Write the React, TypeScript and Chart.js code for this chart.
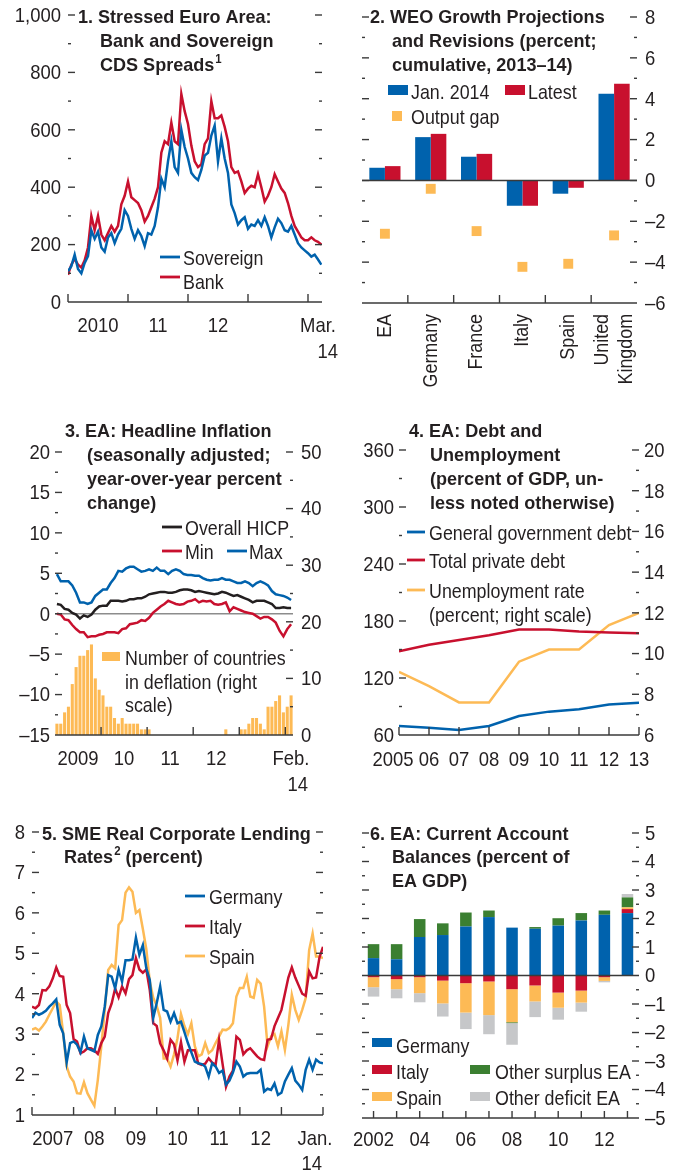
import { useEffect, useRef } from "react";
import { Chart, registerables } from "chart.js";

Chart.register(...registerables);

const W = 684;
const H = 1172;
const FF = '"Liberation Sans", Arial, "DejaVu Sans", sans-serif';
const SX_REG = 0.85; // horizontal condensing of regular text
const SX_NUM = 0.88; // horizontal condensing of numeric tick labels
const SX_BOLD = 0.95; // horizontal condensing of bold titles
const LINE_W = 2.5;
const INK = "#231f20";
const TICK = "#3a3a3a";
const BLUE = "#0062ad";
const RED = "#c8102e";
const ORANGE = "#fdba55";
const GREEN = "#3b7f31";
const LGRAY = "#c6c7c9";
const BLACK = "#231f20";

// ---------- Panel 1: CDS spreads (sampled every 2/3 month from Jan 2010) ----------
const p1SampleMonths = 2 / 3;
const p1Sovereign = [
  107, 125, 165, 115, 100, 136, 160, 250, 220, 245,
  190, 175, 225, 240, 205, 235, 255, 320, 300, 255,
  220, 250, 230, 195, 240, 235, 265, 330, 430, 400,
  490, 560, 470, 450, 600, 540, 500, 450, 435, 425,
  460, 510, 520, 580, 615, 490, 570, 500, 450, 340,
  310, 270, 285, 295, 255, 270, 265, 285, 265, 295,
  265, 225, 260, 290, 275, 250, 245, 265, 235, 205,
  190, 180, 170, 158, 165, 148, 130,
];
const p1Bank = [
  95, 130, 150, 130, 120, 145, 190, 300, 250, 300,
  235, 215, 240, 265, 245, 265, 340, 370, 420, 365,
  355, 345, 320, 280, 300, 330, 360, 400, 520, 560,
  550, 625, 560, 550, 725, 665, 620, 545, 490, 470,
  480, 550, 570, 700, 640, 640, 650, 610, 560, 470,
  450, 455, 420, 380, 395, 405, 400, 445, 400, 350,
  370, 400, 445, 420, 395, 380, 345, 300, 265, 245,
  225, 215, 215, 225, 215, 210, 200,
];
const p1YTicks = [0, 200, 400, 600, 800, 1000];
const p1YMinor = [100, 300, 500, 700, 900];
const p1XTicks = [0, 12, 24, 36, 48];
const p1XLabels = ["2010", "11", "12"];
const p1XLabelAt = [6, 18, 30];

// ---------- Panel 2: WEO growth projections ----------
const p2Cats = ["EA", "Germany", "France", "Italy", "Spain", "United Kingdom"];
const p2Jan2014 = [0.62, 2.12, 1.16, -1.24, -0.65, 4.24];
const p2Latest = [0.7, 2.28, 1.3, -1.24, -0.36, 4.73];
const p2OutputGap = [-2.61, -0.41, -2.48, -4.23, -4.08, -2.69];
const p2YTicks = [-6, -4, -2, 0, 2, 4, 6, 8];
const p2YMinor = [-5, -3, -1, 1, 3, 5, 7];

// ---------- Panel 3: headline inflation, monthly Jan 2009 - Feb 2014 ----------
const p3Hicp = [
  1.2, 1.1, 0.6, 0.5, 0.1, -0.1, -0.6, -0.2, -0.4, -0.1,
  0.5, 0.9, 1.0, 1.0, 1.6, 1.6, 1.6, 1.5, 1.6, 1.8,
  1.8, 1.9, 1.9, 2.1, 2.4, 2.5, 2.6, 2.7, 2.7, 2.6,
  2.6, 2.7, 2.9, 3.0, 3.0, 2.9, 2.7, 2.8, 2.7, 2.6,
  2.5, 2.4, 2.5, 2.7, 2.6, 2.4, 2.2, 2.3, 2.1, 1.9,
  1.7, 1.4, 1.6, 1.6, 1.6, 1.4, 1.2, 0.7, 0.7, 0.8,
  0.7, 0.7,
];
const p3Min = [
  0.0, -0.1, -0.7, -0.8, -1.4, -1.9, -2.3, -2.3, -2.9, -2.8,
  -2.8, -2.6, -2.5, -2.3, -2.3, -2.3, -2.4, -1.9, -1.8, -1.3,
  -1.2, -1.1, -0.8, -0.9, -0.5, 0.1, 0.5, 0.9, 1.2, 1.6,
  1.4, 1.2, 1.1, 1.2, 1.5, 1.6, 1.8, 1.4, 1.6, 1.5,
  1.6, 1.2, 1.1, 1.2, 1.4, 0.3, 0.8, 0.6, 0.4, 0.2,
  0.1, 0.0, -0.3, -0.6, -0.4, -0.4, -0.7, -1.1, -2.1, -2.8,
  -1.9, -1.3,
];
const p3Max = [
  4.9, 4.0, 4.0, 4.0, 3.5, 2.6, 1.4, 1.4, 1.2, 1.4,
  2.2, 2.6, 3.0, 3.0, 3.8, 4.4, 5.3, 5.2, 5.6, 5.8,
  5.8, 5.5, 5.2, 5.3, 5.5, 5.3, 5.7, 5.3, 5.3, 4.9,
  5.3, 5.5, 5.3, 4.9, 4.8, 4.8, 4.7, 4.7, 4.4, 4.2,
  4.1, 4.2, 4.2, 4.4, 4.2, 4.2, 4.0, 3.8, 3.8, 4.0,
  3.8, 3.4, 3.8, 4.0, 3.8, 3.5, 2.8, 2.4, 2.3, 2.2,
  2.0, 1.7,
];
const p3Deflation = [
  2, 2, 4, 5, 9, 12, 14, 14, 15, 16,
  10, 8, 7, 5, 5, 3, 2, 3, 2, 2,
  2, 2, 1, 1, 1, 0, 0, 0, 0, 0,
  0, 0, 0, 0, 0, 0, 0, 0, 0, 0,
  0, 0, 0, 0, 1, 0, 0, 0, 1, 1,
  2, 3, 3, 2, 1, 5, 5, 6, 7, 4,
  5, 7,
];
const p3YTicks = [-15, -10, -5, 0, 5, 10, 15, 20];
const p3YMinor = [-12.5, -7.5, -2.5, 2.5, 7.5, 12.5, 17.5];
const p3Y2Ticks = [0, 10, 20, 30, 40, 50];
const p3Y2Minor = [5, 15, 25, 35, 45];
const p3XTicks = [12, 24, 36, 48, 60];
const p3XLabels = ["2009", "10", "11", "12"];
const p3XLabelAt = [6, 18, 30, 42];

// ---------- Panel 4: debt and unemployment ----------
const p4Years = [2005, 2006, 2007, 2008, 2009, 2010, 2011, 2012, 2013];
const p4YearLabels = ["2005", "06", "07", "08", "09", "10", "11", "12", "13"];
const p4GovDebt = [69.5, 67.7, 65.3, 69.5, 80, 84.6, 87, 92, 94];
const p4PrivateDebt = [148, 155, 160, 165, 171, 171, 169, 168, 167];
const p4Unemployment = [9.1, 8.4, 7.6, 7.6, 9.6, 10.2, 10.2, 11.4, 12.0];
const p4YTicks = [60, 120, 180, 240, 300, 360];
const p4YMinor = [90, 150, 210, 270, 330];
const p4Y2Ticks = [6, 8, 10, 12, 14, 16, 18, 20];
const p4Y2Minor = [7, 9, 11, 13, 15, 17, 19];

// ---------- Panel 5: SME lending rates, monthly Jan 2007 - Jan 2014 ----------
const p5Germany = [
  3.4, 3.53, 3.48, 3.52, 3.58, 3.68, 3.76, 3.86, 3.23, 3.02,
  2.3, 2.78, 2.82, 2.74, 2.55, 2.94, 2.65, 2.61, 2.57, 2.98,
  3.19, 3.68, 4.46, 4.42, 4.13, 4.59, 4.3, 4.83, 4.83, 4.85,
  5.39, 4.96, 5.2, 4.63, 4.34, 3.4, 3.77, 4.18, 3.6, 3.56,
  3.31, 3.52, 3.27, 3.31, 3.05, 2.78, 2.55, 2.32, 2.28, 2.26,
  2.2, 1.95, 2.28, 2.2, 2.04, 2.1, 1.75, 1.85, 2.05, 2.32,
  2.2, 1.95, 2.02, 2.04, 2.04, 2.04, 2.12, 1.58, 1.65, 1.62,
  1.78, 1.5, 1.55, 1.83, 2.0, 2.16, 1.85, 1.75, 1.62, 2.12,
  2.37, 2.12, 2.37, 2.3, 2.28,
];
const p5Italy = [
  3.68, 3.64, 3.72, 4.09, 4.08, 4.18, 4.38, 4.65, 4.44, 4.42,
  3.72, 3.52, 2.88, 2.82, 2.53, 2.57, 2.65, 2.65, 2.6, 2.51,
  2.78, 2.94, 3.52, 3.76, 4.13, 3.91, 4.18, 4.01, 4.36, 4.46,
  4.88, 4.6, 4.52, 4.6, 4.09, 3.27, 3.2, 2.77, 2.6, 2.4,
  2.86, 2.75, 2.35, 2.8, 2.32, 2.6, 2.6, 2.6, 2.27, 2.24,
  2.27, 2.4, 2.3, 2.24, 2.86, 2.27, 1.7, 1.95, 2.1, 2.94,
  2.86, 2.5, 2.6, 2.65, 2.55, 2.45, 2.38, 2.36, 2.86, 2.88,
  3.2, 3.4, 3.6, 4.0, 4.4, 4.65, 4.4, 4.2, 4.0, 3.95,
  4.55, 4.38, 4.4, 4.9, 5.16,
];
const p5Spain = [
  3.11, 3.15, 3.09, 3.19, 3.31, 3.48, 3.64, 3.81, 3.72, 3.02,
  2.2, 1.95, 1.83, 1.54, 1.53, 1.81, 1.54, 1.38, 1.23, 1.87,
  2.69, 3.6, 4.59, 4.71, 4.63, 5.7, 5.82, 6.5, 6.63, 6.52,
  6.0, 6.07, 5.6, 5.1, 4.3, 3.9, 3.7, 3.4, 2.4, 2.4,
  2.2, 2.5, 2.9, 3.5, 3.2, 3.0, 3.27, 2.7, 2.45, 2.5,
  2.78, 2.53, 2.6, 2.78, 2.94, 3.11, 3.1, 3.15, 3.27, 3.93,
  4.14, 4.14, 4.42, 3.93, 3.9, 4.34, 4.25, 3.68, 2.7, 2.94,
  3.0, 2.7, 3.07, 2.61, 3.23, 3.97, 3.6, 3.35, 3.6, 3.89,
  5.08, 5.49, 4.92, 4.92, 4.88,
];
const p5YTicks = [1, 2, 3, 4, 5, 6, 7, 8];
const p5YMinor = [1.5, 2.5, 3.5, 4.5, 5.5, 6.5, 7.5];
const p5XTicks = [0, 12, 24, 36, 48, 60, 72, 84];
const p5XLabels = ["2007", "08", "09", "10", "11", "12"];
const p5XLabelAt = [6, 18, 30, 42, 54, 66];

// ---------- Panel 6: current account balances ----------
const p6Years = ["2002", "2003", "2004", "2005", "2006", "2007", "2008", "2009", "2010", "2011", "2012", "2013"];
const p6Germany = [0.61, 0.57, 1.35, 1.42, 1.72, 2.05, 1.68, 1.64, 1.75, 1.93, 2.13, 2.19];
const p6Italy = [-0.06, -0.13, -0.06, -0.18, -0.27, -0.21, -0.48, -0.35, -0.6, -0.53, -0.06, 0.14];
const p6Spain = [-0.35, -0.35, -0.56, -0.8, -1.03, -1.18, -1.16, -0.56, -0.53, -0.42, -0.13, 0.06];
const p6OtherSurplus = [0.49, 0.53, 0.63, 0.41, 0.49, 0.23, -0.03, 0.06, 0.26, 0.26, 0.15, 0.35];
const p6OtherDeficit = [-0.33, -0.32, -0.32, -0.46, -0.58, -0.67, -0.76, -0.55, -0.42, -0.32, -0.05, 0.12];
const p6YTicks = [-5, -4, -3, -2, -1, 0, 1, 2, 3, 4, 5];
const p6YMinor = [-4.5, -3.5, -2.5, -1.5, -0.5, 0.5, 1.5, 2.5, 3.5, 4.5];
const p6XLabels = ["2002", "04", "06", "08", "10", "12"];
const p6XLabelAt = [0, 2, 4, 6, 8, 10];

// ---------- drawing helpers ----------
type Ctx = CanvasRenderingContext2D;
type TextOpt = { size?: number; bold?: boolean; base?: CanvasTextBaseline; color?: string; sx?: number };

function setFont(ctx: Ctx, size: number, bold: boolean) {
  ctx.font = `${bold ? "bold " : ""}${size}px ${FF}`;
}

function text(ctx: Ctx, s: string, x: number, y: number, align: CanvasTextAlign = "left", opt: TextOpt = {}) {
  const bold = !!opt.bold;
  const size = opt.size ?? (bold ? 19 : 21);
  const sx = opt.sx ?? (bold ? SX_BOLD : SX_REG);
  ctx.save();
  setFont(ctx, size, bold);
  ctx.fillStyle = opt.color ?? INK;
  ctx.textAlign = align;
  ctx.textBaseline = opt.base ?? "alphabetic";
  ctx.translate(x, y);
  ctx.scale(sx, 1);
  ctx.fillText(s, 0, 0);
  ctx.restore();
}

function measure(ctx: Ctx, s: string, size: number, bold: boolean, sx: number) {
  ctx.save();
  setFont(ctx, size, bold);
  const w = ctx.measureText(s).width * sx;
  ctx.restore();
  return w;
}

function title(ctx: Ctx, lines: Array<[string, number, number]>) {
  lines.forEach(([s, x, y]) => text(ctx, s, x, y, "left", { bold: true }));
}

function titleSup(ctx: Ctx, before: string, sup: string, after: string, x: number, y: number) {
  text(ctx, before, x, y, "left", { bold: true });
  const x1 = x + measure(ctx, before, 19, true, SX_BOLD) + 1;
  text(ctx, sup, x1, y - 8, "left", { size: 12, bold: true });
  const x2 = x1 + measure(ctx, sup, 12, true, SX_BOLD);
  if (after) text(ctx, after, x2, y, "left", { bold: true });
}

function fmt(v: number) {
  const s = Math.abs(v).toLocaleString("en-US");
  return v < 0 ? "\u2013" + s : s;
}

function yTicks(ctx: Ctx, chart: any, id: string, vals: number[], len: number, sides: string[] = ["left", "right"]) {
  const s = chart.scales[id];
  const a = chart.chartArea;
  ctx.save();
  ctx.strokeStyle = TICK;
  ctx.lineWidth = 1.4;
  for (const v of vals) {
    const y = s.getPixelForValue(v);
    for (const side of sides) {
      const x0 = side === "left" ? a.left : a.right - len;
      ctx.beginPath();
      ctx.moveTo(x0, y);
      ctx.lineTo(x0 + len, y);
      ctx.stroke();
    }
  }
  ctx.restore();
}

function yLabels(ctx: Ctx, chart: any, id: string, vals: number[], x: number, align: CanvasTextAlign) {
  const s = chart.scales[id];
  for (const v of vals) text(ctx, fmt(v), x, s.getPixelForValue(v) + 1, align, { base: "middle", sx: SX_NUM });
}

function xAxis(ctx: Ctx, chart: any, tickPx: number[], len = 8) {
  const a = chart.chartArea;
  ctx.save();
  ctx.strokeStyle = TICK;
  ctx.lineWidth = 1.6;
  ctx.beginPath();
  ctx.moveTo(a.left, a.bottom);
  ctx.lineTo(a.right, a.bottom);
  ctx.stroke();
  ctx.lineWidth = 1.4;
  for (const x of tickPx) {
    ctx.beginPath();
    ctx.moveTo(x, a.bottom);
    ctx.lineTo(x, a.bottom - len);
    ctx.stroke();
  }
  ctx.restore();
}

function xText(ctx: Ctx, s: string, x: number, y: number, align: CanvasTextAlign = "center") {
  text(ctx, s, x, y, align, { sx: SX_NUM });
}

function hRule(ctx: Ctx, chart: any, id: string, v: number, color: string, w: number) {
  const a = chart.chartArea;
  const y = chart.scales[id].getPixelForValue(v);
  ctx.save();
  ctx.strokeStyle = color;
  ctx.lineWidth = w;
  ctx.beginPath();
  ctx.moveTo(a.left, y);
  ctx.lineTo(a.right, y);
  ctx.stroke();
  ctx.restore();
}

function legLine(ctx: Ctx, x0: number, x1: number, y: number, color: string) {
  ctx.save();
  ctx.strokeStyle = color;
  ctx.lineWidth = 2.8;
  ctx.beginPath();
  ctx.moveTo(x0, y);
  ctx.lineTo(x1, y);
  ctx.stroke();
  ctx.restore();
}

function legRect(ctx: Ctx, x: number, y: number, w: number, h: number, color: string) {
  ctx.save();
  ctx.fillStyle = color;
  ctx.fillRect(x, y, w, h);
  ctx.restore();
}

function pad(a: number[]) {
  return { left: a[0], top: a[1], right: W - a[2], bottom: H - a[3] };
}

function baseOptions(area: number[], scales: any) {
  return {
    responsive: false,
    animation: false,
    events: [],
    layout: { padding: pad(area) },
    plugins: { legend: { display: false }, tooltip: { enabled: false }, title: { display: false } },
    scales,
  };
}

function deco(after: (ctx: Ctx, ch: any) => void, before?: (ctx: Ctx, ch: any) => void) {
  return {
    id: "deco",
    beforeDatasetsDraw(ch: any) {
      if (before) before(ch.ctx, ch);
    },
    afterDraw(ch: any) {
      after(ch.ctx, ch);
    },
  };
}

function lineDs(data: any[], color: string, extra: any = {}) {
  return { data, borderColor: color, backgroundColor: color, borderWidth: LINE_W, pointRadius: 0, tension: 0, fill: false, ...extra };
}

// ---------- panels ----------
function panel1() {
  const area = [68, 15, 322, 302];
  return {
    type: "line",
    data: {
      datasets: [
        lineDs(p1Sovereign.map((v, k) => ({ x: k * p1SampleMonths, y: v })), BLUE),
        lineDs(p1Bank.map((v, k) => ({ x: k * p1SampleMonths, y: v })), RED),
      ],
    },
    options: baseOptions(area, {
      x: { type: "linear", display: false, min: 0, max: 50.8 },
      y: { type: "linear", display: false, min: 0, max: 1000 },
    }),
    plugins: [
      deco((ctx, ch) => {
        yTicks(ctx, ch, "y", p1YTicks.filter((v) => v > 0), 7);
        yTicks(ctx, ch, "y", p1YMinor, 3);
        yLabels(ctx, ch, "y", p1YTicks, 61, "right");
        const xs = ch.scales.x;
        xAxis(ctx, ch, p1XTicks.map((m) => xs.getPixelForValue(m)));
        p1XLabels.forEach((s, i) => xText(ctx, s, xs.getPixelForValue(p1XLabelAt[i]), 332));
        xText(ctx, "Mar.", 318, 332);
        xText(ctx, "14", 338, 358, "right");
        title(ctx, [
          ["1. Stressed Euro Area:", 78, 22.5],
          ["Bank and Sovereign", 100, 46.5],
        ]);
        titleSup(ctx, "CDS Spreads", "1", "", 100, 70.5);
        legLine(ctx, 160, 180, 257, BLUE);
        text(ctx, "Sovereign", 183, 265);
        legLine(ctx, 160, 180, 277, RED);
        text(ctx, "Bank", 183, 289);
      }),
    ],
  };
}

function panel2() {
  const area = [362, 17, 637, 303];
  return {
    type: "bar",
    data: {
      labels: p2Cats,
      datasets: [
        {
          type: "line",
          data: p2OutputGap,
          showLine: false,
          pointStyle: "rect",
          pointRadius: 7,
          pointBackgroundColor: ORANGE,
          pointBorderColor: ORANGE,
          pointBorderWidth: 0,
          borderColor: ORANGE,
          backgroundColor: ORANGE,
        },
        { data: p2Jan2014, backgroundColor: BLUE, borderWidth: 0, categoryPercentage: 0.68, barPercentage: 1 },
        { data: p2Latest, backgroundColor: RED, borderWidth: 0, categoryPercentage: 0.68, barPercentage: 1 },
      ],
    },
    options: baseOptions(area, {
      x: { type: "category", display: false },
      y: { type: "linear", display: false, min: -6, max: 8 },
    }),
    plugins: [
      deco((ctx, ch) => {
        hRule(ctx, ch, "y", 0, TICK, 1.5);
        yTicks(ctx, ch, "y", p2YTicks.filter((v) => v > -6), 7);
        yTicks(ctx, ch, "y", p2YMinor, 3);
        yLabels(ctx, ch, "y", p2YTicks, 645, "left");
        const xs = ch.scales.x;
        const bounds: number[] = [];
        for (let i = 0; i < p2Cats.length - 1; i++) bounds.push((xs.getPixelForValue(i) + xs.getPixelForValue(i + 1)) / 2);
        xAxis(ctx, ch, bounds);
        p2Cats.forEach((c, i) => {
          const cx = xs.getPixelForValue(i);
          const parts = c.split(" ");
          const offs = parts.length === 2 ? [-12, 12] : [0];
          parts.forEach((p, j) => {
            ctx.save();
            ctx.translate(cx + offs[j], 314);
            ctx.rotate(-Math.PI / 2);
            text(ctx, p, 0, 0, "right", { base: "middle" });
            ctx.restore();
          });
        });
        title(ctx, [
          ["2. WEO Growth Projections", 370, 22.5],
          ["and Revisions (percent;", 392, 46.5],
          ["cumulative, 2013\u201314)", 392, 70.5],
        ]);
        legRect(ctx, 388, 85, 20, 10, BLUE);
        text(ctx, "Jan. 2014", 411, 99);
        legRect(ctx, 505, 85, 20, 10, RED);
        text(ctx, "Latest", 528, 99);
        legRect(ctx, 392, 111, 10, 10, ORANGE);
        text(ctx, "Output gap", 411, 124);
      }),
    ],
  };
}

function panel3() {
  const area = [55, 452, 293, 735];
  const pts = (arr: number[]) => arr.map((v, i) => ({ x: i + 0.5, y: v }));
  return {
    type: "bar",
    data: {
      datasets: [
        lineDs(pts(p3Hicp), BLACK, { type: "line", yAxisID: "y" }),
        lineDs(pts(p3Min), RED, { type: "line", yAxisID: "y" }),
        lineDs(pts(p3Max), BLUE, { type: "line", yAxisID: "y" }),
        {
          type: "bar",
          data: pts(p3Deflation),
          yAxisID: "y2",
          backgroundColor: ORANGE,
          borderWidth: 0,
          categoryPercentage: 0.8,
          barPercentage: 1,
        },
      ],
    },
    options: baseOptions(area, {
      x: { type: "linear", display: false, min: 0, max: 62, offset: false },
      y: { type: "linear", display: false, min: -15, max: 20, position: "left" },
      y2: { type: "linear", display: false, min: 0, max: 50, position: "right" },
    }),
    plugins: [
      deco(
        (ctx, ch) => {
          yTicks(ctx, ch, "y", p3YTicks.filter((v) => v > -15), 7, ["left"]);
          yTicks(ctx, ch, "y", p3YMinor, 3, ["left"]);
          yTicks(ctx, ch, "y2", p3Y2Ticks.filter((v) => v > 0), 7, ["right"]);
          yTicks(ctx, ch, "y2", p3Y2Minor, 3, ["right"]);
          yLabels(ctx, ch, "y", p3YTicks, 50, "right");
          yLabels(ctx, ch, "y2", p3Y2Ticks, 301, "left");
          const xs = ch.scales.x;
          xAxis(ctx, ch, p3XTicks.map((m) => xs.getPixelForValue(m)));
          p3XLabels.forEach((s, i) => xText(ctx, s, xs.getPixelForValue(p3XLabelAt[i]), 765));
          xText(ctx, "Feb.", 291, 765);
          xText(ctx, "14", 308, 791, "right");
          title(ctx, [
            ["3. EA: Headline Inflation", 65, 437],
            ["(seasonally adjusted;", 87, 461],
            ["year-over-year percent", 87, 485],
            ["change)", 87, 508.5],
          ]);
          legLine(ctx, 162, 182, 527, BLACK);
          text(ctx, "Overall HICP", 185, 535);
          legLine(ctx, 162, 182, 551, RED);
          text(ctx, "Min", 185, 558.5);
          legLine(ctx, 227, 247, 551, BLUE);
          text(ctx, "Max", 249, 558.5);
          legRect(ctx, 102, 652, 18, 9, ORANGE);
          text(ctx, "Number of countries", 125, 665);
          text(ctx, "in deflation (right", 125, 688.5);
          text(ctx, "scale)", 125, 712);
        },
        (ctx, ch) => {
          hRule(ctx, ch, "y", 0, "#8c8c8c", 1.5);
        }
      ),
    ],
  };
}

function panel4() {
  const area = [399, 450, 639, 735];
  const pts = (arr: number[]) => arr.map((v, i) => ({ x: p4Years[i], y: v }));
  return {
    type: "line",
    data: {
      datasets: [
        lineDs(pts(p4GovDebt), BLUE, { yAxisID: "y" }),
        lineDs(pts(p4PrivateDebt), RED, { yAxisID: "y" }),
        lineDs(pts(p4Unemployment), ORANGE, { yAxisID: "y2" }),
      ],
    },
    options: baseOptions(area, {
      x: { type: "linear", display: false, min: 2005, max: 2013 },
      y: { type: "linear", display: false, min: 60, max: 360, position: "left" },
      y2: { type: "linear", display: false, min: 6, max: 20, position: "right" },
    }),
    plugins: [
      deco((ctx, ch) => {
        yTicks(ctx, ch, "y", p4YTicks.filter((v) => v > 60), 7, ["left"]);
        yTicks(ctx, ch, "y", p4YMinor, 3, ["left"]);
        yTicks(ctx, ch, "y2", p4Y2Ticks.filter((v) => v > 6), 7, ["right"]);
        yTicks(ctx, ch, "y2", p4Y2Minor, 3, ["right"]);
        yLabels(ctx, ch, "y", p4YTicks, 394, "right");
        yLabels(ctx, ch, "y2", p4Y2Ticks, 644, "left");
        const xs = ch.scales.x;
        xAxis(ctx, ch, p4Years.map((y) => xs.getPixelForValue(y)));
        p4YearLabels.forEach((s, i) => xText(ctx, s, xs.getPixelForValue(p4Years[i]) - (i === 0 ? 6 : 0), 766));
        title(ctx, [
          ["4. EA: Debt and", 409, 437],
          ["Unemployment", 430, 460.5],
          ["(percent of GDP, un-", 430, 484.5],
          ["less noted otherwise)", 430, 508.5],
        ]);
        legLine(ctx, 407, 425, 532, BLUE);
        text(ctx, "General government debt", 429, 539.5);
        legLine(ctx, 407, 425, 560, RED);
        text(ctx, "Total private debt", 429, 568);
        legLine(ctx, 407, 425, 590, ORANGE);
        text(ctx, "Unemployment rate", 429, 598);
        text(ctx, "(percent; right scale)", 429, 622);
      }),
    ],
  };
}

function panel5() {
  const area = [32, 832, 323, 1115];
  const pts = (arr: number[]) => arr.map((v, m) => ({ x: m, y: v }));
  return {
    type: "line",
    data: {
      datasets: [
        lineDs(pts(p5Germany), BLUE),
        lineDs(pts(p5Italy), RED),
        lineDs(pts(p5Spain), ORANGE),
      ],
    },
    options: baseOptions(area, {
      x: { type: "linear", display: false, min: 0, max: 84 },
      y: { type: "linear", display: false, min: 1, max: 8 },
    }),
    plugins: [
      deco((ctx, ch) => {
        yTicks(ctx, ch, "y", p5YTicks.filter((v) => v > 1), 7);
        yTicks(ctx, ch, "y", p5YMinor, 3);
        yLabels(ctx, ch, "y", p5YTicks, 25, "right");
        const xs = ch.scales.x;
        xAxis(ctx, ch, p5XTicks.map((m) => xs.getPixelForValue(m)));
        p5XLabels.forEach((s, i) => xText(ctx, s, xs.getPixelForValue(p5XLabelAt[i]), 1145));
        xText(ctx, "Jan.", 315, 1145);
        xText(ctx, "14", 322, 1170, "right");
        title(ctx, [["5. SME Real Corporate Lending", 42, 839.5]]);
        titleSup(ctx, "Rates", "2", " (percent)", 64, 863);
        legLine(ctx, 185, 205, 896, BLUE);
        text(ctx, "Germany", 209, 903.5);
        legLine(ctx, 185, 205, 926, RED);
        text(ctx, "Italy", 209, 933.5);
        legLine(ctx, 185, 205, 956, ORANGE);
        text(ctx, "Spain", 209, 963.5);
      }),
    ],
  };
}

function panel6() {
  const area = [362, 833, 639, 1118];
  const bar = (data: number[], color: string) => ({
    data,
    backgroundColor: color,
    borderWidth: 0,
    categoryPercentage: 0.5,
    barPercentage: 1,
  });
  return {
    type: "bar",
    data: {
      labels: p6Years,
      datasets: [
        bar(p6Germany, BLUE),
        bar(p6Italy, RED),
        bar(p6Spain, ORANGE),
        bar(p6OtherSurplus, GREEN),
        bar(p6OtherDeficit, LGRAY),
      ],
    },
    options: baseOptions(area, {
      x: { type: "category", display: false, stacked: true },
      y: { type: "linear", display: false, min: -5, max: 5, stacked: true },
    }),
    plugins: [
      deco((ctx, ch) => {
        hRule(ctx, ch, "y", 0, TICK, 1.5);
        yTicks(ctx, ch, "y", p6YTicks.filter((v) => v > -5 && v !== 0), 7);
        yTicks(ctx, ch, "y", p6YMinor, 3);
        yLabels(ctx, ch, "y", p6YTicks, 645, "left");
        const xs = ch.scales.x;
        xAxis(ctx, ch, p6Years.map((_, i) => xs.getPixelForValue(i)), 7);
        p6XLabels.forEach((s, i) => xText(ctx, s, xs.getPixelForValue(p6XLabelAt[i]), 1146));
        title(ctx, [
          ["6. EA: Current Account", 370, 839.5],
          ["Balances (percent of", 392, 863],
          ["EA GDP)", 392, 886.5],
        ]);
        legRect(ctx, 372, 1038, 20, 9, BLUE);
        text(ctx, "Germany", 396, 1052.5);
        legRect(ctx, 372, 1065, 20, 9, RED);
        text(ctx, "Italy", 396, 1079);
        legRect(ctx, 372, 1092, 20, 9, ORANGE);
        text(ctx, "Spain", 396, 1105);
        legRect(ctx, 470, 1065, 20, 9, GREEN);
        text(ctx, "Other surplus EA", 495, 1079);
        legRect(ctx, 470, 1092, 20, 9, LGRAY);
        text(ctx, "Other deficit EA", 495, 1105);
      }),
    ],
  };
}

const builders = [panel1, panel2, panel3, panel4, panel5, panel6];

export default function App() {
  const refs = useRef<(HTMLCanvasElement | null)[]>([]);
  useEffect(() => {
    const charts = builders.map((b, i) => new Chart(refs.current[i] as HTMLCanvasElement, b() as any));
    return () => charts.forEach((c) => c.destroy());
  }, []);
  return (
    <div style={{ position: "absolute", left: 0, top: 0, width: W, height: H, background: "#fff", overflow: "hidden" }}>
      {builders.map((_, i) => (
        <canvas
          key={i}
          ref={(el) => {
            refs.current[i] = el;
          }}
          width={W}
          height={H}
          style={{ position: "absolute", left: 0, top: 0, width: W, height: H }}
        />
      ))}
    </div>
  );
}
